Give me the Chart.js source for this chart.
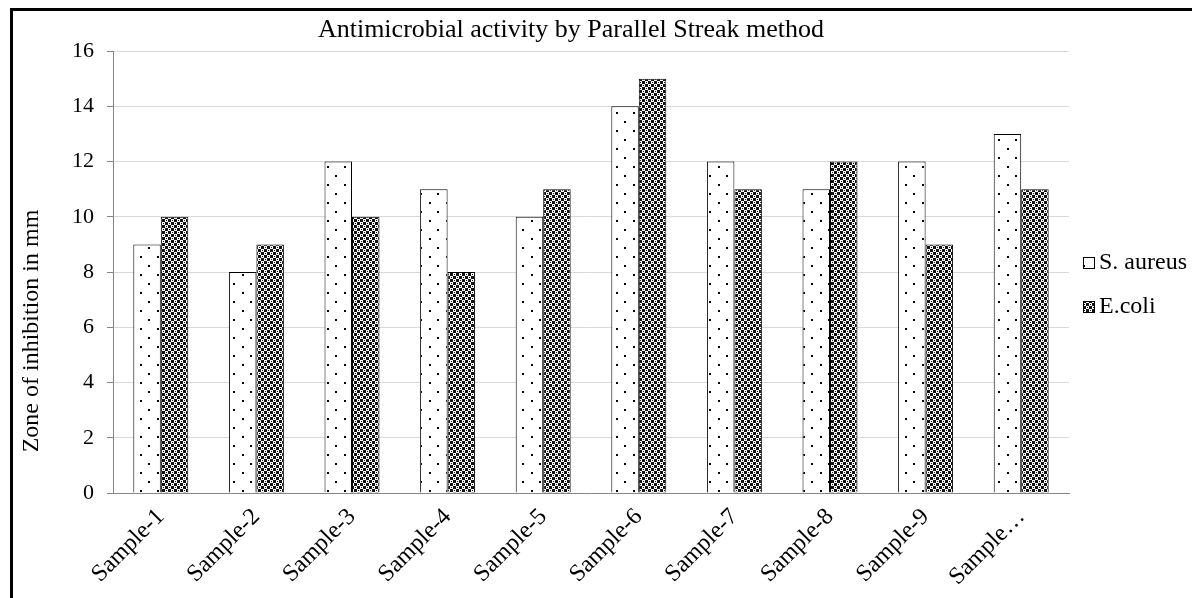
<!DOCTYPE html>
<html lang="en">
<head>
  <meta charset="UTF-8" />
  <title>Antimicrobial activity by Parallel Streak method</title>
  <script src="https://cdn.jsdelivr.net/npm/chart.js"></script>
  <style>
    html, body { margin: 0; padding: 0; background: #fff; overflow: hidden; }
    #wrap { position: relative; width: 1192px; height: 598px; }
    #frame {
      position: absolute; left: 10px; top: 8px;
      width: 1300px; height: 700px;
      border-left: 3px solid #000; border-top: 3px solid #000;
      pointer-events: none;
    }
  </style>
</head>
<body>
  <div id="wrap">
    <canvas id="chart" width="1192" height="598"></canvas>
    <div id="frame"></div>
  </div>

  <script>
    const categories = ['Sample-1', 'Sample-2', 'Sample-3', 'Sample-4', 'Sample-5',
                        'Sample-6', 'Sample-7', 'Sample-8', 'Sample-9', 'Sample-10'];
    const sAureus = [9, 8, 12, 11, 10, 14, 12, 11, 12, 13];
    const eColi   = [10, 9, 10, 8, 11, 15, 11, 12, 9, 11];
    const seriesNames = ['S. aureus', 'E.coli'];
    const yMin = 0, yMax = 16, yStep = 2;
    const chartTitle = 'Antimicrobial activity by Parallel Streak method';
    const yTitle = 'Zone of inhibition in mm';

    const serif = '"Liberation Serif", "Times New Roman", serif';

    // sparse dots, like Excel's 5% pattern
    function dotPattern() {
      const c = document.createElement('canvas');
      c.width = 17; c.height = 18;
      const g = c.getContext('2d');
      g.fillStyle = '#fff'; g.fillRect(0, 0, 17, 18);
      g.fillStyle = '#000';
      g.fillRect(4, 4, 2, 2);
      g.fillRect(12, 13, 2, 2);
      return g.createPattern(c, 'repeat');
    }

    // dense checker: white rings with a dark dot, on black
    function checkPattern() {
      const c = document.createElement('canvas');
      c.width = 6; c.height = 6;
      const g = c.getContext('2d');
      g.fillStyle = '#111'; g.fillRect(0, 0, 6, 6);
      [[1, 1], [4, 4]].forEach(([x, y]) => {
        g.fillStyle = '#fff';
        g.fillRect(x - 1, y - 1, 3, 3);
        g.fillStyle = '#111';
        g.fillRect(x, y, 1, 1);
      });
      return g.createPattern(c, 'repeat');
    }

    const dots = dotPattern();
    const checks = checkPattern();

    // title, y-axis title and legend drawn where Excel puts them
    const excelText = {
      id: 'excelText',
      afterDraw(chart) {
        const { ctx, chartArea } = chart;
        ctx.save();
        ctx.fillStyle = '#000';
        ctx.textBaseline = 'middle';

        ctx.font = '26px ' + serif;
        ctx.textAlign = 'center';
        ctx.fillText(chartTitle, 571, 30);

        ctx.save();
        ctx.font = '24px ' + serif;
        ctx.translate(32, 331);
        ctx.rotate(-Math.PI / 2);
        ctx.fillText(yTitle, 0, 0);
        ctx.restore();

        ctx.font = '24px ' + serif;
        ctx.textAlign = 'left';
        chart.data.datasets.forEach((ds, i) => {
          const bx = chartArea.right + 14;
          const cy = 263 + i * 44;
          ctx.fillStyle = ds.backgroundColor;
          ctx.fillRect(bx, cy - 6, 12, 12);
          ctx.strokeStyle = '#000';
          ctx.lineWidth = 1;
          ctx.strokeRect(bx + 0.5, cy - 5.5, 11, 11);
          ctx.fillStyle = '#000';
          ctx.fillText(ds.label, bx + 16, cy);
        });
        ctx.restore();
      }
    };

    new Chart(document.getElementById('chart'), {
      type: 'bar',
      data: {
        labels: categories,
        datasets: [
          { label: seriesNames[0], data: sAureus, backgroundColor: dots,
            borderColor: '#000', borderWidth: 1 },
          { label: seriesNames[1], data: eColi, backgroundColor: checks,
            borderColor: '#000', borderWidth: 1 }
        ]
      },
      options: {
        responsive: false,
        animation: false,
        layout: { padding: { top: 51, left: 0, right: 123, bottom: 0 } },
        datasets: { bar: { categoryPercentage: 0.575, barPercentage: 1 } },
        plugins: {
          legend: { display: false },
          title: { display: false },
          tooltip: { enabled: false }
        },
        scales: {
          x: {
            afterFit: (scale) => { scale.height = 105; },
            grid: { display: false },
            border: { color: '#868686' },
            ticks: {
              color: '#000',
              font: { family: serif, size: 24 },
              maxRotation: 45, minRotation: 45,
              padding: 2,
              callback: function (v) {
                const s = this.getLabelForValue(v);
                return s.length > 8 ? s.slice(0, 6) + '\u2026' : s;
              }
            }
          },
          y: {
            min: yMin, max: yMax,
            afterFit: (scale) => { scale.width = 113; },
            grid: { color: '#d9d9d9', tickColor: '#868686', tickLength: 6 },
            border: { color: '#868686' },
            ticks: {
              stepSize: yStep,
              color: '#000',
              font: { family: serif, size: 22 },
              padding: 13
            }
          }
        }
      },
      plugins: [excelText]
    });
  </script>
</body>
</html>
